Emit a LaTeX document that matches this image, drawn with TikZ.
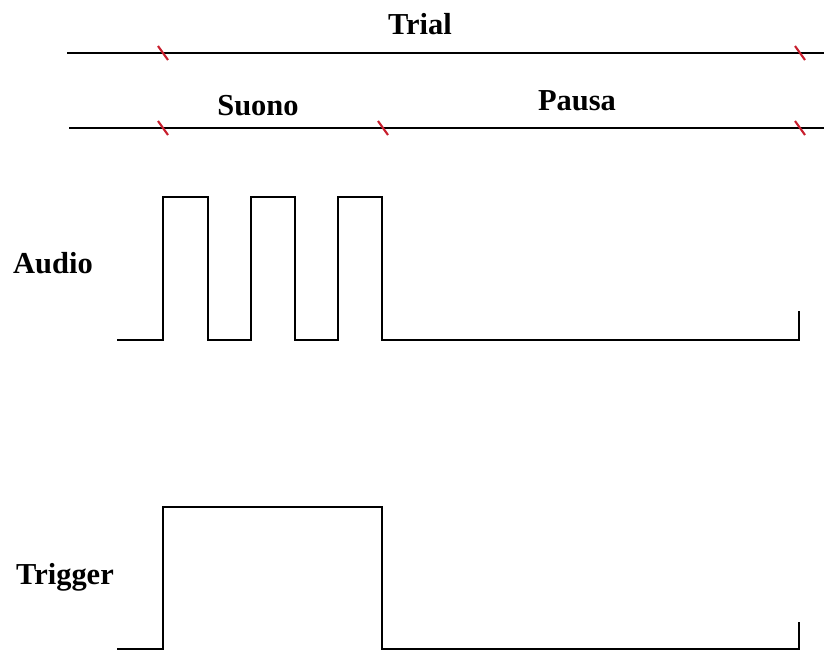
\documentclass[tikz,border=0pt]{standalone}
\usepackage{fontspec}
\setmainfont{Liberation Serif}
\usepackage{xcolor}
\usetikzlibrary{calc}

\definecolor{rosso}{RGB}{200,30,45}

\begin{document}
\begin{tikzpicture}[x=0.03cm, y=-0.03cm]

\tikzset{
    etichetta/.style = {
    font=\fontsize{26}{30}\selectfont\bfseries,
    inner sep=0pt
    }
}

\tikzstyle{linea}=[line width=2.2pt, black]
\tikzstyle{segnale}=[line width=2.2pt, black, line join=miter]
\tikzstyle{tacca}=[line width=1.8pt, rosso]

\useasboundingbox (0,0) rectangle (824,651);

% linee dei tempi
\coordinate (trial-a) at (67,53);
\coordinate (trial-b) at (824,53);
\coordinate (fase-a) at (69,128);
\coordinate (fase-b) at (824,128);

\draw[linea] (trial-a) -- (trial-b);
\draw[linea] (fase-a) -- (fase-b);

\node (n-trial) [etichetta] at (420,24) {Trial};
\node (n-suono) [etichetta] at (258,106) {Suono};
\node (n-pausa) [etichetta] at (577,101) {Pausa};

\foreach \x in {163,800}
    \draw[tacca] (\x-5,46) -- (\x+5,60);
\foreach \x in {163,383,800}
    \draw[tacca] (\x-5,121) -- (\x+5,135);

% audio
\node (n-audio) [etichetta] at (53,263) {Audio};
\draw[segnale] (117,340) -- (163,340) -- (163,197) -- (208,197) -- (208,340)
    -- (251,340) -- (251,197) -- (295,197) -- (295,340)
    -- (338,340) -- (338,197) -- (382,197) -- (382,340)
    -- (799,340) -- (799,311);

% trigger
\node (n-trigger) [etichetta] at (65,577) {Trigger};
\draw[segnale] (117,649) -- (163,649) -- (163,507) -- (382,507) -- (382,649)
    -- (799,649) -- (799,622);

\end{tikzpicture}
\end{document}
